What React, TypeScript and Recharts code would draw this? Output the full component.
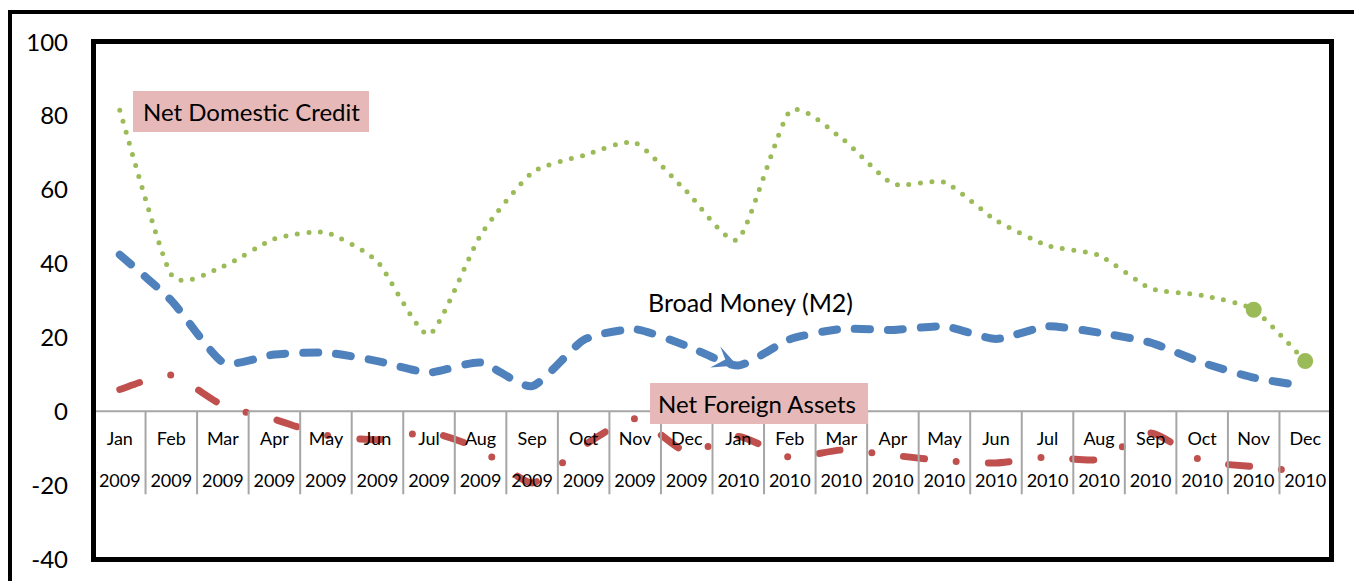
import { LineChart, Line, XAxis, YAxis, ReferenceLine } from "recharts";

const months = [
  "Jan", "Feb", "Mar", "Apr", "May", "Jun", "Jul", "Aug", "Sep", "Oct", "Nov", "Dec",
  "Jan", "Feb", "Mar", "Apr", "May", "Jun", "Jul", "Aug", "Sep", "Oct", "Nov", "Dec",
];
const years = [
  "2009", "2009", "2009", "2009", "2009", "2009", "2009", "2009", "2009", "2009", "2009", "2009",
  "2010", "2010", "2010", "2010", "2010", "2010", "2010", "2010", "2010", "2010", "2010", "2010",
];
const netDomesticCredit = [
  81.5, 37, 39.2, 46.7, 48.4, 40.5, 20.8, 47.7, 64.6, 69.3, 72.7, 59.5,
  46.6, 81.2, 74, 61.6, 62, 51.7, 44.9, 42.2, 33.3, 31.4, 27.5, 13.6,
];
const broadMoney = [
  42.4, 30, 13.3, 15.4, 15.9, 13.6, 10.5, 13.2, 6.8, 19.3, 22.2, 17.7,
  12.4, 19.5, 22.3, 22, 23, 19.6, 23, 21.3, 18.6, 13.2, 9.1, 6.8,
];
const netForeignAssets = [
  5.9, 9.8, 1.6, -2.2, -6.5, -7.7, -5.7, -10.3, -19.4, -9.3, -2, -11,
  -6.8, -12.4, -10.5, -11.9, -13.4, -14, -12.4, -13, -5.9, -13.4, -15, -16.4,
];
const yTicks = [-40, -20, 0, 20, 40, 60, 80, 100];

const rows = months.map((m, i) => ({
  label: `${m} ${years[i]}`,
  ndc: netDomesticCredit[i],
  m2: broadMoney[i],
  nfa: netForeignAssets[i],
}));

const W = 1354;
const H = 581;
const PLOT_LEFT = 94;
const PLOT_RIGHT = 1331;
const PLOT_TOP = 42;
const PLOT_BOTTOM = 559;
const Y_MIN = -40;
const Y_MAX = 100;
const ZERO_Y = PLOT_TOP + ((PLOT_BOTTOM - PLOT_TOP) * Y_MAX) / (Y_MAX - Y_MIN);
const BAND = (PLOT_RIGHT - PLOT_LEFT) / months.length;
const GRID = "#A6A6A6";

// light cardinal spline, closer to Excel's "smoothed line" than monotone
function smooth(k: number) {
  return (ctx: any) => {
    let pts: number[][] = [];
    return {
      areaStart() {},
      areaEnd() {},
      lineStart() {
        pts = [];
      },
      point(x: number, y: number) {
        pts.push([+x, +y]);
      },
      lineEnd() {
        if (!pts.length) return;
        ctx.moveTo(pts[0][0], pts[0][1]);
        for (let i = 0; i < pts.length - 1; i++) {
          const p0 = pts[i - 1] || pts[i];
          const p1 = pts[i];
          const p2 = pts[i + 1];
          const p3 = pts[i + 2] || p2;
          ctx.bezierCurveTo(
            p1[0] + (p2[0] - p0[0]) * k,
            p1[1] + (p2[1] - p0[1]) * k,
            p2[0] - (p3[0] - p1[0]) * k,
            p2[1] - (p3[1] - p1[1]) * k,
            p2[0],
            p2[1]
          );
        }
      },
    };
  };
}
const curve = smooth(0.1);

function CellTick(props: any) {
  const { x, index } = props;
  const left = x - BAND / 2;
  const last = index === months.length - 1;
  return (
    <g>
      <line x1={left} x2={left} y1={ZERO_Y} y2={ZERO_Y + 83} stroke={GRID} strokeWidth={2} />
      {last && (
        <line x1={left + BAND} x2={left + BAND} y1={ZERO_Y} y2={ZERO_Y + 83} stroke={GRID} strokeWidth={2} />
      )}
      <text x={x} y={ZERO_Y + 34} textAnchor="middle" fontSize={18} fill="#000">
        {months[index]}
      </text>
      <text x={x} y={ZERO_Y + 76} textAnchor="middle" fontSize={18} fill="#000">
        {years[index]}
      </text>
    </g>
  );
}

function endDot(p: any) {
  if (p.index < months.length - 2) return <g key={p.index} />;
  return <circle key={p.index} cx={p.cx} cy={p.cy} r={8} fill="#9BBB59" />;
}

// stray arrowhead on the M2 line at Jan 2010
function arrowDot(p: any) {
  if (p.index !== 12) return <g key={p.index} />;
  return (
    <path
      key={p.index}
      transform={`translate(${p.cx - 1},${p.cy})`}
      d="M0,0 L-17,-19 L-12,-6 L-27,2 Z"
      fill="#4F81BD"
    />
  );
}

const boxLabel = {
  position: "absolute" as const,
  background: "#E6B9B8",
  height: 41,
  lineHeight: "41px",
  fontSize: 24,
  color: "#000",
  whiteSpace: "nowrap" as const,
  boxSizing: "border-box" as const,
};

export default function App() {
  return (
    <div
      style={{
        position: "absolute",
        left: 0,
        top: 0,
        width: W,
        height: H,
        overflow: "hidden",
        background: "#fff",
        fontFamily: "Lato, sans-serif",
      }}
    >
      <div
        style={{
          position: "absolute",
          left: 8,
          top: 10,
          width: W + 40,
          height: H + 40,
          border: "4px solid #000",
        }}
      />
      <div style={{ position: "absolute", left: 0, top: 0 }}>
        <LineChart
          width={W}
          height={H}
          data={rows}
          margin={{ top: PLOT_TOP, right: W - PLOT_RIGHT, bottom: H - PLOT_BOTTOM - 1, left: 0 }}
        >
          <XAxis
            dataKey="label"
            interval={0}
            axisLine={false}
            tickLine={false}
            height={1}
            padding={{ left: BAND / 2, right: BAND / 2 }}
            tick={CellTick}
          />
          <YAxis
            width={PLOT_LEFT}
            domain={[Y_MIN, Y_MAX]}
            ticks={yTicks}
            axisLine={false}
            tickLine={false}
            tickSize={0}
            tickMargin={26}
            tick={{ fill: "#000", fontSize: 24 }}
          />
          <ReferenceLine y={0} stroke={GRID} strokeWidth={2} />
          <Line
            type={curve as any}
            dataKey="ndc"
            stroke="#9BBB59"
            strokeWidth={5}
            strokeDasharray="0 11.5"
            strokeLinecap="round"
            dot={endDot}
            activeDot={false}
            isAnimationActive={false}
          />
          <Line
            type={curve as any}
            dataKey="m2"
            stroke="#4F81BD"
            strokeWidth={8}
            strokeDasharray="15 18"
            strokeLinecap="round"
            dot={arrowDot}
            activeDot={false}
            isAnimationActive={false}
          />
          <Line
            type={curve as any}
            dataKey="nfa"
            stroke="#C0504D"
            strokeWidth={7}
            strokeDasharray="21 32 0 32"
            strokeLinecap="round"
            dot={false}
            activeDot={false}
            isAnimationActive={false}
          />
        </LineChart>
      </div>
      {/* plot area frame */}
      <div
        style={{
          position: "absolute",
          left: PLOT_LEFT - 3,
          top: PLOT_TOP - 3,
          width: PLOT_RIGHT - PLOT_LEFT + 6,
          height: PLOT_BOTTOM - PLOT_TOP + 6,
          border: "5px solid #000",
          boxSizing: "border-box",
          pointerEvents: "none",
        }}
      />
      <div style={{ ...boxLabel, left: 133, top: 91, width: 236, paddingLeft: 10 }}>
        Net Domestic Credit
      </div>
      <div style={{ ...boxLabel, left: 650, top: 383, width: 218, paddingLeft: 8 }}>
        Net Foreign Assets
      </div>
      <div
        style={{
          position: "absolute",
          left: 648,
          top: 282,
          height: 41,
          lineHeight: "41px",
          fontSize: 25,
          color: "#000",
          whiteSpace: "nowrap",
        }}
      >
        Broad Money (M2)
      </div>
    </div>
  );
}
